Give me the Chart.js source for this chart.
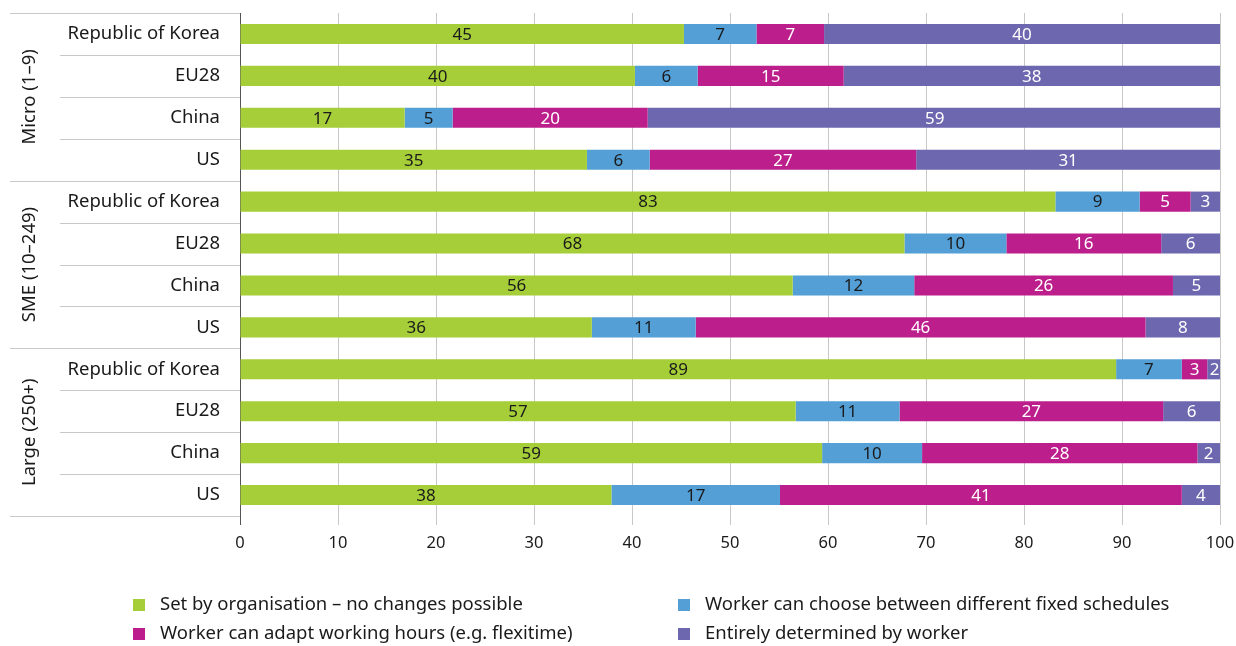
<!doctype html>
<html lang="en">
<head>
  <meta charset="UTF-8">
  <title>Working time arrangements</title>
  <script src="https://cdn.jsdelivr.net/npm/chart.js@4.4.0/dist/chart.umd.js"></script>
  <style>
      html, body { margin: 0; padding: 0; background: #fff; }
      .wrap { width: 1236px; height: 646px; position: relative; }
  </style>
</head>
<body>
<div class="wrap">
  <canvas id="chart"></canvas>
</div>

<script>
  const rows = [
    'Republic of Korea', 'EU28', 'China', 'US',
    'Republic of Korea', 'EU28', 'China', 'US',
    'Republic of Korea', 'EU28', 'China', 'US'
  ]
  const groups = ['Micro (1–9)', 'SME (10–249)', 'Large (250+)']

  // shares in %
  const setByOrg   = [45.3, 40.3, 16.8, 35.4, 83.2, 67.8, 56.4, 35.9, 89.4, 56.7, 59.4, 37.9]
  const chooseFixed = [7.4, 6.4, 4.9, 6.4, 8.6, 10.4, 12.4, 10.6, 6.7, 10.6, 10.2, 17.2]
  const adaptHours = [6.9, 14.9, 19.9, 27.2, 5.2, 15.8, 26.4, 45.9, 2.6, 26.9, 28.1, 41.0]
  const byWorker   = [40.4, 38.4, 58.6, 31.0, 3.0, 6.0, 4.8, 7.6, 1.5, 5.8, 2.3, 3.9]

  const FONT = '"Noto Sans", sans-serif'
  const GRID = '#c8c8c8'

  // value labels in the middle of each segment
  const segLabels = {
    id: 'segLabels',
    afterDatasetsDraw(chart) {
      const ctx = chart.ctx
      ctx.save()
      ctx.font = '17px ' + FONT
      ctx.textAlign = 'center'
      ctx.textBaseline = 'middle'
      chart.data.datasets.forEach((ds, i) => {
        const meta = chart.getDatasetMeta(i)
        meta.data.forEach((el, j) => {
          ctx.fillStyle = ds.textColor
          ctx.fillText(Math.round(ds.data[j]), (el.x + el.base) / 2, el.y + 1)
        })
      })
      ctx.restore()
    }
  }

  // row separators, group labels and legend
  const extras = {
    id: 'extras',
    afterDraw(chart) {
      const ctx = chart.ctx
      const y = chart.scales.y
      const area = chart.chartArea
      ctx.save()
      ctx.strokeStyle = GRID
      ctx.lineWidth = 1
      const n = rows.length
      for (let i = 0; i <= n; i++) {
        let py
        if (i === 0) py = area.top
        else if (i === n) py = area.bottom
        else py = (y.getPixelForValue(i - 1) + y.getPixelForValue(i)) / 2
        const x0 = (i % 4 === 0) ? 10 : 60
        ctx.beginPath()
        ctx.moveTo(x0, Math.round(py) + 0.5)
        ctx.lineTo(area.left, Math.round(py) + 0.5)
        ctx.stroke()
      }

      ctx.fillStyle = '#1a1a1a'
      ctx.font = '18.5px ' + FONT
      ctx.textAlign = 'center'
      ctx.textBaseline = 'middle'
      groups.forEach((g, k) => {
        const top = y.getPixelForValue(k * 4)
        const bot = y.getPixelForValue(k * 4 + 3)
        ctx.save()
        ctx.translate(30, (top + bot) / 2)
        ctx.rotate(-Math.PI / 2)
        ctx.fillText(g, 0, 0)
        ctx.restore()
      })

      // legend, two columns
      const ds = chart.data.datasets
      const cols = [133, 678]
      const lines = [605, 634]
      ctx.font = '18.5px ' + FONT
      ctx.textAlign = 'left'
      ds.forEach((d, k) => {
        const cx = cols[k % 2]
        const cy = lines[Math.floor(k / 2)]
        ctx.fillStyle = d.backgroundColor
        ctx.fillRect(cx, cy - 6, 12, 12)
        ctx.fillStyle = '#1a1a1a'
        ctx.fillText(d.label, cx + 27, cy)
      })
      ctx.restore()
    }
  }

  function noEdgePadding(scale) {
    scale.paddingTop = 0
    scale.paddingBottom = 0
    scale.paddingLeft = 0
    scale.paddingRight = 0
  }

  const chart = new Chart(document.querySelector('#chart'), {
    type: 'bar',
    data: {
      labels: rows,
      datasets: [
        { label: 'Set by organisation – no changes possible', data: setByOrg,
          backgroundColor: '#a6ce39', textColor: '#1a1a1a' },
        { label: 'Worker can choose between different fixed schedules', data: chooseFixed,
          backgroundColor: '#539fd6', textColor: '#1a1a1a' },
        { label: 'Worker can adapt working hours (e.g. flexitime)', data: adaptHours,
          backgroundColor: '#bc1f8c', textColor: '#ffffff' },
        { label: 'Entirely determined by worker', data: byWorker,
          backgroundColor: '#6d67af', textColor: '#ffffff' }
      ]
    },
    options: {
      indexAxis: 'y',
      responsive: true,
      maintainAspectRatio: false,
      animation: false,
      layout: { padding: { top: 13, right: 16, left: 0, bottom: 0 } },
      datasets: {
        bar: { barPercentage: 0.48, categoryPercentage: 1, borderWidth: 0 }
      },
      plugins: {
        legend: { display: false },
        tooltip: { enabled: false }
      },
      scales: {
        x: {
          stacked: true,
          min: 0,
          max: 100,
          ticks: { stepSize: 10, color: '#1a1a1a', font: { family: FONT, size: 16.5 }, padding: 8 },
          grid: {
            color: (c) => c.tick && c.tick.value === 0 ? '#555' : GRID,
            tickLength: 9,
            drawOnChartArea: true
          },
          border: { display: false },
          afterFit(scale) { scale.height = 130; noEdgePadding(scale) }
        },
        y: {
          stacked: true,
          ticks: { color: '#1a1a1a', font: { family: FONT, size: 18.5 }, padding: 20, autoSkip: false },
          grid: { display: false, drawTicks: false },
          border: { display: false },
          afterFit(scale) { scale.width = 240; noEdgePadding(scale) }
        }
      }
    },
    plugins: [segLabels, extras]
  })
</script>
</body>
</html>
